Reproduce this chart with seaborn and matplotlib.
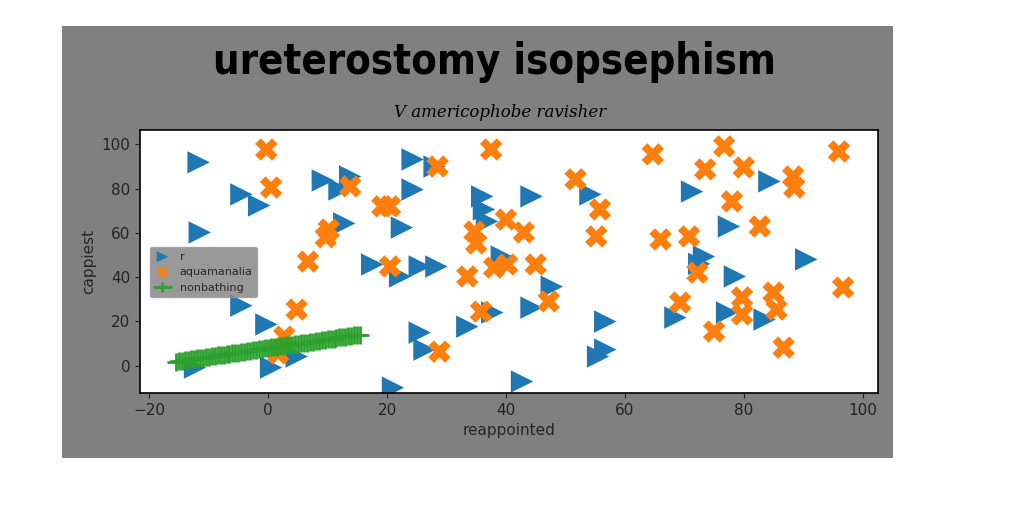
import matplotlib
matplotlib.use('Agg')
import matplotlib.pyplot as plt
from matplotlib.patches import Rectangle
import seaborn as sns
import pandas as pd

# series "r" (blue triangles)
r_x = [-11.7, -11.5, -4.5, -1.5, -12.3, -4.5, -0.3, 0.5, 4.8, 9.2, 12.0, 13.8, 12.8, 17.5,
       24.3, 28.0, 24.3, 36.0, 36.3, 36.8, 44.3, 54.2, 22.5, 25.5, 28.3, 39.3, 22.2, 47.7,
       44.3, 37.7, 33.5, 25.5, 26.3, 56.7, 56.7, 55.5, 42.7, 21.0, 71.3, 84.3, 77.5, 73.3,
       72.5, 90.5, 78.5, 68.5, 77.2, 83.5]
r_y = [91.9, 60.2, 77.4, 72.4, -0.9, 27.1, 18.6, -0.9, 4.1, 83.7, 79.6, 85.5, 64.3, 45.7,
       93.2, 90.0, 79.6, 76.5, 70.6, 65.2, 76.5, 77.4, 62.4, 44.8, 44.8, 49.3, 40.3, 35.7,
       26.2, 24.0, 17.6, 14.9, 7.2, 19.9, 7.2, 4.1, -7.2, -10.0, 78.7, 83.3, 62.9, 49.3,
       46.0, 48.0, 40.3, 21.7, 24.0, 20.8]

# series "aquamanalia" (orange X)
aq_x = [-0.3, 0.5, 13.8, 19.2, 10.2, 9.7, 6.7, 4.8, 2.7, 1.7, 37.5, 28.5, 51.7, 55.8,
        55.2, 20.5, 40.0, 43.0, 34.7, 35.0, 20.5, 38.0, 40.2, 45.0, 33.5, 47.2, 35.8, 28.8,
        64.7, 76.7, 96.0, 73.5, 80.0, 88.3, 88.5, 78.0, 82.7, 66.0, 70.8, 72.2, 96.7, 69.3,
        79.7, 79.7, 85.0, 85.5, 75.0, 86.7]
aq_y = [97.7, 80.5, 81.0, 72.0, 61.5, 58.0, 47.0, 25.3, 13.1, 5.5, 97.7, 90.0, 84.2, 70.6,
        58.4, 72.0, 66.0, 60.2, 60.6, 55.2, 44.8, 44.3, 45.7, 45.7, 40.3, 29.0, 24.4, 6.3,
        95.5, 99.1, 96.8, 88.7, 89.6, 85.5, 80.5, 74.2, 62.9, 57.0, 58.4, 42.0, 35.3, 28.5,
        30.8, 23.1, 33.0, 25.3, 15.4, 8.1]

# series "nonbathing" (green plus line)
nb_x = [-15.5, -15.0, -14.5, -14.0, -13.5, -13.0, -12.5, -12.0, -11.5, -11.0, -10.5, -10.0,
        -9.5, -9.0, -8.5, -8.0, -7.5, -7.0, -6.5, -6.0, -5.5, -5.0, -4.5, -4.0, -3.5, -3.0,
        -2.5, -2.0, -1.5, -1.0, -0.5, 0.0, 0.5, 1.0, 1.5, 2.0, 2.5, 3.0, 3.5, 4.0, 4.5, 5.0,
        5.5, 6.0, 6.5, 7.0, 7.5, 8.0, 8.5, 9.0, 9.5, 10.0, 10.5, 11.0, 11.5, 12.0, 12.5, 13.0,
        13.5, 14.0, 14.5, 15.0, 15.5]
nb_y = [1.8, 2.1, 2.2, 2.5, 2.6, 2.9, 3.0, 3.3, 3.4, 3.6, 3.9, 4.0, 4.3, 4.4, 4.6, 4.9, 5.0,
        5.3, 5.4, 5.5, 5.8, 5.9, 6.2, 6.3, 6.5, 6.8, 6.9, 7.2, 7.3, 7.5, 7.8, 7.9, 8.2, 8.3,
        8.5, 8.8, 8.9, 9.2, 9.3, 9.5, 9.8, 9.8, 10.1, 10.2, 10.4, 10.7, 10.8, 11.1, 11.2, 11.4,
        11.7, 11.8, 12.1, 12.2, 12.4, 12.7, 12.8, 13.1, 13.2, 13.4, 13.7, 13.8, 14.0]

x_ticks = [-20, 0, 20, 40, 60, 80, 100]
y_ticks = [0, 20, 40, 60, 80, 100]

GRAY = '#808080'
GREEN = '#2ca02c'

sns.set_style('ticks')
plt.rcParams['font.family'] = ['DejaVu Sans']

fig = plt.figure(figsize=(10.24, 5.12), dpi=100, facecolor='white')
# gray figure panel, drawn behind the axes
fig.add_artist(Rectangle((62 / 1024, 54 / 512), 831 / 1024, 432 / 512,
                         transform=fig.transFigure, facecolor=GRAY, edgecolor='none', zorder=-5))

ax = fig.add_axes([0.137, 0.232, 0.72, 0.514])
ax.set_facecolor('white')

r_df = pd.DataFrame({'x': r_x, 'y': r_y})
aq_df = pd.DataFrame({'x': aq_x, 'y': aq_y})
nb_df = pd.DataFrame({'x': nb_x, 'y': nb_y})

sns.scatterplot(data=r_df, x='x', y='y', marker='>', s=260, color='#1f77b4',
                edgecolor='none', label='r', ax=ax)
sns.scatterplot(data=aq_df, x='x', y='y', marker='X', s=260, color='#ff7f0e',
                edgecolor='none', label='aquamanalia', ax=ax)
sns.lineplot(data=nb_df, x='x', y='y', sort=False, estimator=None, color=GREEN,
             marker='+', markersize=13, markeredgewidth=2, markeredgecolor=GREEN,
             linewidth=2, label='nonbathing', ax=ax)

ax.set_xlim(-21.5, 102.5)
ax.set_ylim(-12.5, 106.5)
ax.set_xticks(x_ticks)
ax.set_yticks(y_ticks)
ax.tick_params(labelsize=11, colors='#222222')
for sp in ax.spines.values():
    sp.set_color('black')
    sp.set_linewidth(1.2)

ax.set_xlabel('reappointed', fontsize=11)
ax.set_ylabel('cappiest', fontsize=11)

leg = ax.legend(loc='center left', bbox_to_anchor=(0.005, 0.46), fontsize=8,
                facecolor=GRAY, framealpha=0.8, edgecolor='#999999',
                markerscale=0.5, handlelength=1.5)

fig.text(0.483, 0.878, 'ureterostomy isopsephism', ha='center', va='center', color='black',
         fontsize=30, fontweight='heavy', fontstretch='condensed', family=['DejaVu Sans'])
fig.text(0.488, 0.78, 'V americophobe ravisher', ha='center', va='center', color='black',
         fontsize=12, style='italic', family=['DejaVu Serif'])

fig.savefig('out.png', dpi=100, facecolor='white')
